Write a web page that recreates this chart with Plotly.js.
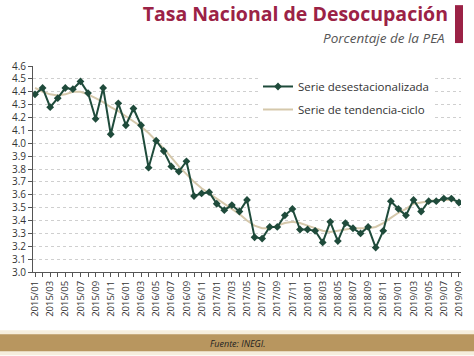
<!DOCTYPE html>
<html><head><meta charset="utf-8">
<script src="https://cdn.plot.ly/plotly-3.0.1.min.js"></script>
<style>html,body{margin:0;padding:0;background:#fff}#c{width:474px;height:356px}</style>
</head><body><div id="c"></div>
<script>
const months = [];
for (let y = 2015; y <= 2019; y++) {
  for (let m = 1; m <= 12; m++) {
    if (y === 2019 && m > 9) break;
    months.push(y + '/' + String(m).padStart(2, '0'));
  }
}
const desestacionalizada = [4.38,4.43,4.28,4.35,4.43,4.42,4.48,4.39,4.19,4.43,4.07,4.31,
  4.14,4.27,4.14,3.81,4.02,3.94,3.82,3.78,3.86,3.59,3.61,3.62,
  3.53,3.48,3.52,3.47,3.56,3.27,3.26,3.35,3.35,3.44,3.49,3.33,
  3.33,3.32,3.23,3.39,3.24,3.38,3.34,3.30,3.35,3.19,3.32,3.55,
  3.49,3.44,3.56,3.47,3.55,3.55,3.57,3.57,3.54];
const tendencia = [4.43,4.40,4.38,4.37,4.38,4.40,4.40,4.38,4.35,4.32,4.28,4.25,
  4.21,4.17,4.13,4.08,4.02,3.96,3.89,3.82,3.76,3.70,3.65,3.61,
  3.57,3.53,3.49,3.45,3.40,3.36,3.34,3.34,3.36,3.38,3.39,3.38,
  3.36,3.34,3.32,3.31,3.32,3.33,3.34,3.34,3.34,3.35,3.38,3.42,
  3.46,3.49,3.53,3.54,3.55,3.56,3.56,3.56,3.55];
const tickLabels = months.map((m, i) => i % 2 === 0 ? m : '');
const yTicks = [3.0,3.1,3.2,3.3,3.4,3.5,3.6,3.7,3.8,3.9,4.0,4.1,4.2,4.3,4.4,4.5,4.6];

const FONT = 'Open Sans, Lato, sans-serif';
const data = [
  {x: months, y: tendencia, type: 'scatter', mode: 'lines', name: 'Serie de tendencia-ciclo',
   line: {color: '#d5c8ab', width: 2}, legendrank: 2, legendgroup: 'b'},
  {x: months, y: desestacionalizada, type: 'scatter', mode: 'lines+markers', name: 'Serie desestacionalizada',
   line: {color: '#1f4b3b', width: 2}, marker: {symbol: 'diamond', size: 6, color: '#1f4b3b'},
   legendrank: 1, legendgroup: 'a'}
];
const L = 33, R = 461, T = 66, B = 272.5;
const px = v => (v - L) / (R - L);
const py = v => (B - v) / (B - T);
const layout = {
  width: 474, height: 356,
  margin: {l: L, r: 474 - R, t: T, b: 356 - B},
  paper_bgcolor: '#fff', plot_bgcolor: '#fff',
  font: {family: FONT, color: '#333'},
  title: {text: '<b>Tasa Nacional de Desocupación</b>', font: {family: FONT, size: 19.5, color: '#9b2246'},
    xref: 'container', yref: 'container', x: 448 / 474, xanchor: 'right', y: 1 - 14 / 356, yanchor: 'middle'},
  showlegend: true,
  legend: {x: px(258), y: py(72), xanchor: 'left', yanchor: 'top', bgcolor: '#fff',
    font: {family: FONT, size: 11.5, color: '#333'}, traceorder: 'grouped', tracegroupgap: 4},
  xaxis: {type: 'category', range: [-0.27, 56.27], tickmode: 'array', tickvals: months, ticktext: tickLabels,
    tickangle: -90, ticks: 'outside', ticklen: 4, tickcolor: '#555', showline: true, linecolor: '#555',
    linewidth: 1, showgrid: false, zeroline: false, tickfont: {family: FONT, size: 9.5, color: '#333'}},
  yaxis: {range: [3.0, 4.6], tickmode: 'array', tickvals: yTicks, ticktext: yTicks.map(v => v.toFixed(1)),
    ticks: 'outside', ticklen: 4, tickcolor: '#555', showline: true, linecolor: '#555', linewidth: 1,
    showgrid: true, gridcolor: '#cfcfcf', griddash: 'dot', gridwidth: 1, zeroline: false,
    tickfont: {family: FONT, size: 10, color: '#333'}},
  shapes: [
    {type: 'rect', xref: 'paper', yref: 'paper', x0: px(455), x1: px(463), y0: py(43), y1: py(5),
      fillcolor: '#9b2246', line: {width: 0}},
    {type: 'rect', xref: 'paper', yref: 'paper', x0: px(0), x1: px(474), y0: py(331), y1: py(356),
      fillcolor: '#f6eedd', line: {width: 0}},
    {type: 'rect', xref: 'paper', yref: 'paper', x0: px(0), x1: px(474), y0: py(335), y1: py(352),
      fillcolor: '#b8965f', line: {width: 0}}
  ],
  annotations: [
    {text: '<i>Porcentaje de la PEA</i>', xref: 'paper', yref: 'paper', x: px(447), y: py(38),
      xanchor: 'right', yanchor: 'middle', showarrow: false, font: {family: FONT, size: 13.5, color: '#555'}},
    {text: '<i>Fuente: INEGI.</i>', xref: 'paper', yref: 'paper', x: px(237), y: py(344),
      xanchor: 'center', yanchor: 'middle', showarrow: false, font: {family: FONT, size: 9, color: '#222'}}
  ]
};
Plotly.newPlot('c', data, layout, {displayModeBar: false, staticPlot: true});
</script></body></html>
